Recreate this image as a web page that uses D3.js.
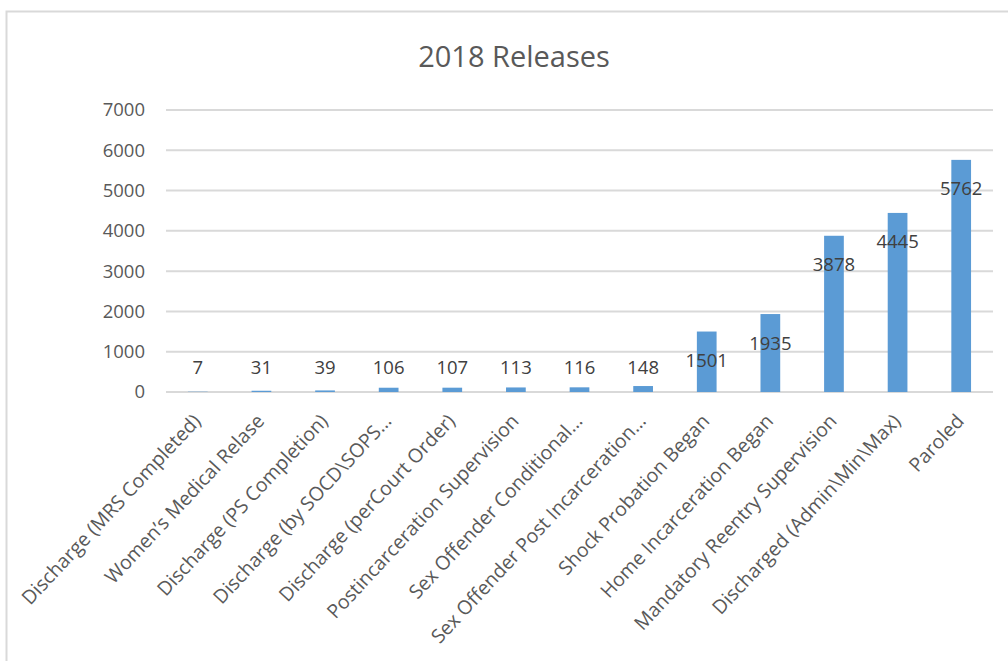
<!DOCTYPE html>
<html>
<head>
<meta charset="utf-8">
<script src="https://cdn.jsdelivr.net/npm/d3@7"></script>
<style>
  body { margin: 0; background: #fff; }
  text { font-family: "Open Sans", "Liberation Sans", sans-serif; }
</style>
</head>
<body>
<svg id="chart"></svg>
<script>
// release types and counts, 2018
var categories = [
  "Discharge (MRS Completed)",
  "Women\u2019s Medical Relase",
  "Discharge (PS Completion)",
  "Discharge (by SOCD\\SOPS\u2026",
  "Discharge (perCourt Order)",
  "Postincarceration Supervision",
  "Sex Offender Conditional\u2026",
  "Sex Offender Post Incarceration\u2026",
  "Shock Probation Began",
  "Home Incarceration Began",
  "Mandatory Reentry Supervision",
  "Discharged (Admin\\Min\\Max)",
  "Paroled"
];
var counts = [7, 31, 39, 106, 107, 113, 116, 148, 1501, 1935, 3878, 4445, 5762];
var yTicks = [0, 1000, 2000, 3000, 4000, 5000, 6000, 7000];
var title = "2018 Releases";

var width = 1008, height = 661;
var margin = { top: 110, right: 15, bottom: 269, left: 166 };
var w = width - margin.left - margin.right,
    h = height - margin.top - margin.bottom;

var svg = d3.select("#chart")
  .attr("width", width)
  .attr("height", height);

// chart frame
svg.append("rect")
  .attr("x", 6.5).attr("y", 11.5)
  .attr("width", width + 10).attr("height", height + 10)
  .attr("fill", "none")
  .attr("stroke", "#d9d9d9")
  .attr("stroke-width", 2);

svg.append("text")
  .attr("x", 514)
  .attr("y", 67)
  .attr("text-anchor", "middle")
  .attr("font-size", 29)
  .attr("fill", "#595959")
  .text(title);

var g = svg.append("g")
  .attr("transform", "translate(" + margin.left + "," + margin.top + ")");

var x = d3.scaleBand()
  .domain(categories)
  .range([0, w])
  .paddingInner(0.69)
  .paddingOuter(0.345);

var y = d3.scaleLinear()
  .domain([0, 7000])
  .range([h, 0]);

// gridlines
g.append("g")
  .selectAll("line")
  .data(yTicks)
  .enter().append("line")
  .attr("x1", 0).attr("x2", w)
  .attr("y1", function (d) { return y(d); })
  .attr("y2", function (d) { return y(d); })
  .attr("stroke", "#d9d9d9")
  .attr("stroke-width", 2);

// y axis labels
var yAxis = g.append("g")
  .call(d3.axisLeft(y).tickValues(yTicks).tickFormat(d3.format("d")).tickSize(0).tickPadding(21));
yAxis.select(".domain").remove();
yAxis.selectAll("text")
  .attr("font-size", 18.5)
  .attr("fill", "#595959")
  .style("font-family", "'Open Sans', sans-serif");

// bars
g.selectAll(".bar")
  .data(counts)
  .enter().append("rect")
  .attr("class", "bar")
  .attr("x", function (d, i) { return x(categories[i]); })
  .attr("width", x.bandwidth())
  .attr("y", function (d) { return y(d); })
  .attr("height", function (d) { return h - y(d); })
  .attr("fill", "#5b9bd5");

// value labels
g.selectAll(".val")
  .data(counts)
  .enter().append("text")
  .attr("class", "val")
  .attr("x", function (d, i) { return x(categories[i]) + x.bandwidth() / 2; })
  .attr("y", function (d) { return Math.min(y(d) + 29, y(0) - 24); })
  .attr("dy", "0.35em")
  .attr("text-anchor", "middle")
  .attr("font-size", 18.5)
  .attr("fill", "#404040")
  .text(function (d) { return d; });

// category labels
g.selectAll(".cat")
  .data(categories)
  .enter().append("text")
  .attr("class", "cat")
  .attr("transform", function (d) {
    return "translate(" + (x(d) + x.bandwidth() / 2 + 4) + "," + (h + 30) + ") rotate(-47)";
  })
  .attr("text-anchor", "end")
  .attr("font-size", 19.5)
  .attr("fill", "#595959")
  .text(function (d) { return d; });
</script>
</body>
</html>
